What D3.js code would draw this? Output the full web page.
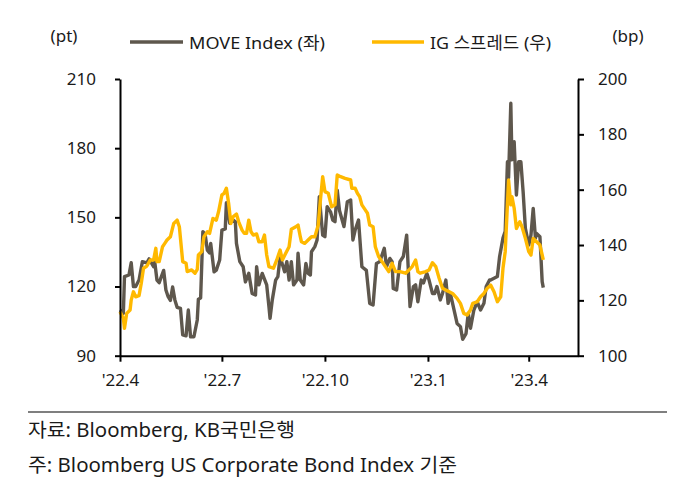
<!DOCTYPE html>
<html><head><meta charset="utf-8">
<script src="https://cdn.jsdelivr.net/npm/d3@7"></script>
<style>
body{margin:0;background:#fff;}
text{font-family:'Noto Sans','Noto Sans CJK KR',sans-serif;fill:#1a1a1a;}
</style></head>
<body><svg id="c" width="696" height="493"></svg>
<script>
const moveDates = ["2022-04-01","2022-04-04","2022-04-05","2022-04-09","2022-04-11","2022-04-13","2022-04-15","2022-04-18","2022-04-21","2022-04-25","2022-04-27","2022-05-01","2022-05-02","2022-05-04","2022-05-06","2022-05-10","2022-05-12","2022-05-14","2022-05-16","2022-05-18","2022-05-20","2022-05-22","2022-05-25","2022-05-27","2022-05-30","2022-06-01","2022-06-03","2022-06-06","2022-06-09","2022-06-10","2022-06-12","2022-06-14","2022-06-16","2022-06-18","2022-06-20","2022-06-21","2022-06-24","2022-06-26","2022-06-29","2022-07-01","2022-07-04","2022-07-05","2022-07-08","2022-07-11","2022-07-13","2022-07-14","2022-07-17","2022-07-20","2022-07-22","2022-07-25","2022-07-28","2022-07-31","2022-08-01","2022-08-03","2022-08-06","2022-08-10","2022-08-12","2022-08-13","2022-08-15","2022-08-18","2022-08-20","2022-08-22","2022-08-24","2022-08-26","2022-08-28","2022-08-30","2022-09-01","2022-09-03","2022-09-06","2022-09-07","2022-09-09","2022-09-12","2022-09-14","2022-09-16","2022-09-18","2022-09-19","2022-09-22","2022-09-24","2022-09-26","2022-09-29","2022-10-01","2022-10-03","2022-10-06","2022-10-08","2022-10-10","2022-10-12","2022-10-14","2022-10-18","2022-10-21","2022-10-24","2022-10-26","2022-10-28","2022-10-31","2022-11-03","2022-11-07","2022-11-10","2022-11-13","2022-11-16","2022-11-19","2022-11-23","2022-11-25","2022-11-28","2022-11-30","2022-12-01","2022-12-04","2022-12-07","2022-12-10","2022-12-13","2022-12-16","2022-12-19","2022-12-21","2022-12-23","2022-12-26","2022-12-28","2022-12-31","2023-01-02","2023-01-05","2023-01-07","2023-01-09","2023-01-12","2023-01-14","2023-01-17","2023-01-19","2023-01-21","2023-01-25","2023-01-27","2023-01-30","2023-02-01","2023-02-04","2023-02-06","2023-02-08","2023-02-11","2023-02-14","2023-02-17","2023-02-20","2023-02-22","2023-02-25","2023-02-26","2023-03-04","2023-03-06","2023-03-09","2023-03-11","2023-03-13","2023-03-14","2023-03-16","2023-03-17","2023-03-19","2023-03-21","2023-03-23","2023-03-25","2023-03-27","2023-03-29","2023-04-01","2023-04-03","2023-04-05","2023-04-07","2023-04-08","2023-04-11","2023-04-13","2023-04-14"];
const moveValues = [109.8,108.4,124.3,125,130.3,120,120,122.8,130.8,130.3,132,128.6,130.8,122.8,121.7,127,118.5,115.6,114,119.8,114.2,111,110.5,99,98.6,109.8,98.2,98.2,105.5,114.5,115,143.8,142.7,135.8,134.6,138.7,126.4,127.1,131.5,144.5,145,156.3,147.4,148.8,148.1,138.7,130.8,128.6,122,125.7,117,116.3,128.6,120.7,125.7,120.7,111.3,106.2,114.2,122.8,124.3,133,129.6,126.4,130.8,122.8,130.8,120.7,122.8,134.4,122.8,120.7,130,125.7,125,135.1,137.3,140.2,159,142.3,141.6,154.6,152.4,148.8,148.1,161.8,153,146,156.8,157.5,140.2,144.5,148.8,128.6,127,112.7,112,130,130.8,136.6,128.6,132.2,130.8,119.2,118.5,130.8,133,142.3,111.3,120,120.7,113.4,122.8,121.6,125.7,122.8,117,117,120,114.2,117,122.8,112.7,117,108.4,104,102.6,97.1,99.6,108.4,101.9,109.8,113.4,109.8,112.7,120,122.8,122.8,124.3,133,141,144,174.1,167,199.5,175,182.8,159.7,174.1,174.1,161,145.2,138,142.3,153.9,141,143,141.6,122.1,119.5];

const igDates = ["2022-04-01","2022-04-04","2022-04-05","2022-04-07","2022-04-10","2022-04-11","2022-04-13","2022-04-15","2022-04-18","2022-04-20","2022-04-22","2022-04-25","2022-04-28","2022-05-01","2022-05-03","2022-05-04","2022-05-06","2022-05-09","2022-05-11","2022-05-13","2022-05-16","2022-05-19","2022-05-22","2022-05-24","2022-05-27","2022-05-30","2022-05-31","2022-06-04","2022-06-07","2022-06-09","2022-06-10","2022-06-13","2022-06-15","2022-06-18","2022-06-20","2022-06-23","2022-06-26","2022-06-28","2022-07-01","2022-07-03","2022-07-05","2022-07-07","2022-07-09","2022-07-11","2022-07-14","2022-07-16","2022-07-19","2022-07-21","2022-07-23","2022-07-25","2022-07-27","2022-07-29","2022-08-01","2022-08-03","2022-08-06","2022-08-08","2022-08-10","2022-08-12","2022-08-16","2022-08-19","2022-08-22","2022-08-24","2022-08-27","2022-08-30","2022-09-01","2022-09-05","2022-09-07","2022-09-09","2022-09-10","2022-09-13","2022-09-16","2022-09-19","2022-09-22","2022-09-25","2022-09-27","2022-09-29","2022-10-01","2022-10-04","2022-10-07","2022-10-10","2022-10-12","2022-10-15","2022-10-19","2022-10-24","2022-10-25","2022-10-28","2022-10-30","2022-11-01","2022-11-03","2022-11-06","2022-11-08","2022-11-10","2022-11-13","2022-11-15","2022-11-18","2022-11-21","2022-11-24","2022-11-27","2022-11-30","2022-12-03","2022-12-07","2022-12-12","2022-12-15","2022-12-18","2022-12-21","2022-12-23","2022-12-25","2022-12-30","2023-01-02","2023-01-05","2023-01-08","2023-01-11","2023-01-14","2023-01-17","2023-01-20","2023-01-23","2023-01-27","2023-01-30","2023-02-02","2023-02-05","2023-02-08","2023-02-10","2023-02-14","2023-02-17","2023-02-20","2023-02-23","2023-02-26","2023-03-01","2023-03-04","2023-03-07","2023-03-09","2023-03-11","2023-03-14","2023-03-16","2023-03-17","2023-03-19","2023-03-21","2023-03-24","2023-03-26","2023-03-29","2023-04-01","2023-04-03","2023-04-05","2023-04-08","2023-04-11","2023-04-13","2023-04-14"];
const igValues = [115.9,113.5,109.9,115.3,116.5,120.1,123.1,121.3,121.7,126.2,131.6,132.4,134.6,134.6,138.8,134,134,139.4,140.6,141.8,143,147.8,149,146.6,134,133.4,130.4,131,129.8,131.2,136.4,137.6,143,144.8,144.2,149.6,149,152,158.1,158.7,160.5,155.1,147.8,150.2,151.2,148.4,145.4,144.2,144.2,149,144.8,143.6,144,141.2,141.2,143.6,136.4,132.2,131.6,134.6,138.2,134.6,137,139.4,145.7,146.6,147.2,143,141.2,140.6,141.8,143,143,147.2,156.3,164.7,159.3,158.7,153.8,154.5,165.3,164.7,164.1,163.5,160.5,160.5,158.7,157.5,154.5,152.7,151.5,147.2,146.6,139.4,135.8,134,132.2,130.4,133.4,130.4,130.4,129.8,131,132.2,134.6,130.4,129.8,130.4,131,133.6,132.2,128,124.4,123.7,123.1,122.5,120.7,118.9,115.3,114.7,116.5,118.9,119.5,121.3,122.5,124.4,125.5,123.1,119.5,121.3,131.6,137.6,163.5,154.5,157.5,153.3,146,148.4,146.6,142.4,137.6,136.4,142.4,141.2,140,136.4,134.6];

const leftTicks = [90,120,150,180,210];
const rightTicks = [100,120,140,160,180,200];
const xTickDates = ["2022-04-01","2022-07-01","2022-10-01","2023-01-01","2023-04-01"];
const xTickLabels = ["'22.4","'22.7","'22.10","'23.1","'23.4"];
const seriesNames = ["MOVE Index (좌)","IG 스프레드 (우)"];
const unitLeft = "(pt)", unitRight = "(bp)";
const sourceNote = "자료: Bloomberg, KB국민은행";
const footNote = "주: Bloomberg US Corporate Bond Index 기준";

const parse = d3.timeParse("%Y-%m-%d");
const moveData = moveDates.map((d,i)=>({date:parse(d), value:moveValues[i]}));
const igData = igDates.map((d,i)=>({date:parse(d), value:igValues[i]}));

const svg = d3.select("#c");
const L=120, R=578, T=79, B=355.7;
const x = d3.scaleTime().domain([parse("2022-04-01"), parse("2023-05-15")]).range([L,R]);
const yL = d3.scaleLinear().domain([90,210]).range([B,T]);
const yR = d3.scaleLinear().domain([100,200]).range([B,T]);

const colMove = "#5e574d", colIG = "#ffb900";

// lines
svg.append("path").datum(moveData)
  .attr("fill","none").attr("stroke",colMove).attr("stroke-width",3.4).attr("stroke-linejoin","round")
  .attr("d", d3.line().x(d=>x(d.date)).y(d=>yL(d.value)));
svg.append("path").datum(igData)
  .attr("fill","none").attr("stroke",colIG).attr("stroke-width",3.4).attr("stroke-linejoin","round")
  .attr("d", d3.line().x(d=>x(d.date)).y(d=>yR(d.value)));

// axes
const axL = svg.append("g").attr("transform",`translate(${L},0)`)
  .call(d3.axisLeft(yL).tickValues(leftTicks).tickSize(5).tickPadding(19).tickSizeOuter(0));
const axR = svg.append("g").attr("transform",`translate(${R},0)`)
  .call(d3.axisRight(yR).tickValues(rightTicks).tickSize(6).tickPadding(14).tickSizeOuter(0));
const axB = svg.append("g").attr("transform",`translate(0,${B})`)
  .call(d3.axisBottom(x).tickValues(xTickDates.map(parse)).tickFormat((d,i)=>xTickLabels[i]).tickSize(6).tickPadding(12).tickSizeOuter(0));
[axL,axR,axB].forEach(g=>{
  g.selectAll(".domain").attr("stroke","#000").attr("stroke-width",2);
  g.selectAll(".tick line").attr("stroke","#000").attr("stroke-width",2);
  g.selectAll(".tick text").style("font-size","17px").attr("fill","#1a1a1a")
    .style("font-family","'Noto Sans','Noto Sans CJK KR',sans-serif");
});

// units
svg.append("text").attr("x",64).attr("y",35).attr("text-anchor","middle").attr("dominant-baseline","central").style("font-size","17px").text(unitLeft);
svg.append("text").attr("x",628).attr("y",35).attr("text-anchor","middle").attr("dominant-baseline","central").style("font-size","17px").text(unitRight);

// legend
const leg = [{c:colMove,x1:130,x2:183,tx:189,w:136,t:seriesNames[0]},{c:colIG,x1:372,x2:424,tx:430,w:121,t:seriesNames[1]}];
leg.forEach(l=>{
  svg.append("line").attr("x1",l.x1).attr("x2",l.x2).attr("y1",42).attr("y2",42).attr("stroke",l.c).attr("stroke-width",3.4);
  svg.append("text").attr("x",l.tx).attr("y",42).attr("dominant-baseline","central").style("font-size","17px")
    .attr("textLength",l.w).attr("lengthAdjust","spacingAndGlyphs").text(l.t);
});

// footer
svg.append("line").attr("x1",28).attr("x2",667).attr("y1",412).attr("y2",412).attr("stroke","#000").attr("stroke-width",1.2);
svg.append("text").attr("x",28).attr("y",437).style("font-size","19.5px")
  .attr("textLength",267).attr("lengthAdjust","spacingAndGlyphs").text(sourceNote);
svg.append("text").attr("x",28).attr("y",471.5).style("font-size","19.5px")
  .attr("textLength",429).attr("lengthAdjust","spacingAndGlyphs").text(footNote);
</script></body></html>
